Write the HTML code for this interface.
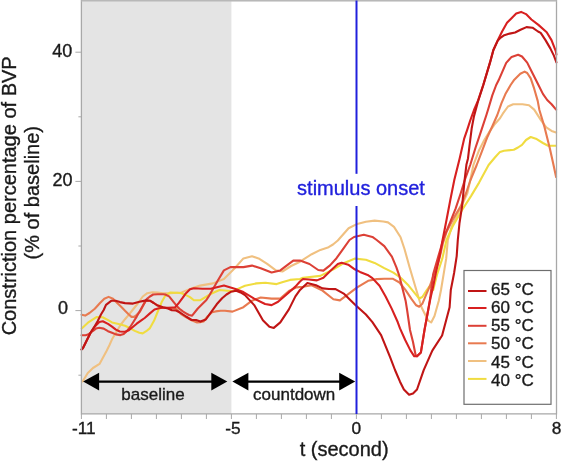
<!DOCTYPE html>
<html><head><meta charset="utf-8"><style>
html,body{margin:0;padding:0;background:#fff;width:562px;height:461px;overflow:hidden;position:relative;}
</style></head><body>
<svg width="562" height="461" viewBox="0 0 562 461" style="position:absolute;left:0;top:0;will-change:transform" font-family="Liberation Sans, sans-serif"><rect x="81.4" y="0.5" width="150.0" height="413.5" fill="#e4e4e4"/><polyline points="82.6,381.5 87.8,373.0 93.0,368.0 99.5,363.9 106.0,352.1 109.5,345.0 112.0,339.3 115.9,332.8 120.5,325.0 125.0,319.2 128.9,314.6 133.0,309.5 138.2,303.0 142.8,296.5 147.3,293.2 152.5,292.2 157.7,292.6 163.0,293.2 170.0,293.2 181.5,292.5 186.0,290.6 190.0,288.9 200.0,285.6 213.0,283.4 223.9,279.0 234.7,268.2 243.4,258.4 252.0,256.3 258.6,258.4 267.2,263.9 275.9,270.4 282.4,271.5 291.1,266.0 300.0,261.7 311.7,254.2 320.4,249.9 328.6,247.2 333.0,244.5 337.8,240.5 348.6,228.2 357.2,223.9 365.9,221.7 374.6,220.6 383.3,221.5 388.0,222.4 394.0,226.9 400.6,237.3 404.5,249.0 409.5,267.0 415.8,288.2 421.5,307.3 428.0,320.3 431.2,322.5 434.5,316.0 438.8,300.8 441.0,290.0 443.6,274.3 446.2,258.7 447.8,240.0 451.7,226.9 456.9,215.2 462.1,204.8 467.4,193.0 470.3,180.0 473.4,165.0 478.8,150.8 484.3,140.0 489.7,131.3 495.1,123.7 500.0,118.3 502.8,113.7 508.0,106.5 513.2,104.3 518.0,104.3 522.5,104.3 529.0,105.2 534.2,109.6 541.1,120.4 546.3,127.4 551.6,130.9 556.1,132.6" fill="none" stroke="#f0c080" stroke-width="2.1" stroke-linejoin="round" stroke-linecap="round"/><polyline points="81.7,328.5 88.7,322.1 96.5,317.1 102.6,317.3 108.6,320.4 112.0,322.4 118.5,324.0 125.0,325.7 130.2,328.3 134.8,330.9 139.3,332.8 142.7,333.4 146.2,331.2 149.7,328.4 154.0,320.8 158.4,310.0 161.6,302.3 165.2,295.8 170.4,292.5 176.9,292.8 181.5,293.2 186.0,295.1 190.0,297.1 193.9,300.2 200.4,300.2 205.8,297.0 210.0,294.3 219.5,290.0 227.5,290.7 233.0,291.3 238.4,288.6 245.0,285.8 256.4,283.4 265.4,282.8 276.6,284.1 283.0,282.0 290.0,279.9 300.0,279.0 303.0,277.7 320.4,275.9 333.4,269.4 344.2,262.9 355.1,258.6 365.9,259.7 374.6,262.9 384.3,268.1 393.4,272.6 401.0,278.0 408.6,285.6 414.7,293.1 419.2,298.5 422.3,297.0 426.8,290.1 430.0,285.6 433.2,290.0 437.1,274.3 442.3,258.7 446.5,240.0 453.0,225.6 462.1,210.0 471.3,195.6 479.1,182.6 488.6,165.0 495.1,157.3 500.0,151.9 504.0,150.8 513.8,149.7 518.0,147.5 522.0,144.8 526.0,140.0 530.7,137.0 535.9,138.7 542.9,143.0 548.1,145.7 556.1,145.7" fill="none" stroke="#f0dc40" stroke-width="2.1" stroke-linejoin="round" stroke-linecap="round"/><polyline points="81.5,314.7 85.2,315.6 89.5,313.0 94.8,308.7 100.0,303.0 104.3,298.7 108.6,296.9 113.0,298.7 116.7,302.4 121.9,307.6 125.0,310.7 128.3,314.0 131.5,316.9 134.2,316.9 136.5,315.0 138.5,313.0 140.2,311.4 143.4,304.9 146.0,300.4 149.9,300.7 153.8,303.0 157.7,305.6 163.0,307.5 168.0,308.0 173.0,308.5 176.5,309.0 180.8,313.8 185.0,316.5 191.7,320.3 197.1,322.5 200.0,322.3 203.5,321.5 208.0,316.0 212.0,312.3 215.6,311.4 220.6,310.7 225.0,310.7 232.5,311.6 243.4,307.2 252.0,300.7 260.7,297.5 271.6,298.6 280.3,298.6 288.9,291.0 296.5,287.4 303.0,286.8 311.7,285.2 322.5,290.6 333.4,299.3 339.9,300.4 348.6,293.9 357.2,287.4 368.1,280.8 376.8,279.1 384.3,278.7 392.6,278.7 399.5,282.5 405.6,290.1 411.6,299.2 416.2,305.3 419.2,306.8 422.3,303.8 426.8,293.1 429.7,286.5 433.2,276.0 435.0,272.6 438.4,262.0 440.2,255.2 443.0,243.0 446.5,232.1 453.0,219.1 460.8,206.1 466.1,193.0 470.5,180.0 476.7,165.0 482.1,150.8 487.5,136.7 493.0,124.8 497.3,115.0 501.5,103.2 505.4,94.1 510.6,85.0 513.8,80.3 520.3,73.8 524.6,71.6 527.2,73.0 530.7,78.3 534.2,88.7 537.7,100.9 539.4,110.0 544.6,127.4 549.8,148.3 553.3,163.9 556.1,177.0" fill="none" stroke="#e87a50" stroke-width="2.1" stroke-linejoin="round" stroke-linecap="round"/><polyline points="81.5,335.2 85.5,335.2 88.0,334.5 93.0,331.0 95.9,328.6 99.3,327.8 103.7,328.6 108.0,331.2 112.0,332.8 115.9,334.4 120.5,335.1 123.7,334.1 127.0,330.9 130.2,327.0 133.5,321.8 136.7,316.6 139.3,312.0 143.4,304.9 146.7,299.1 149.9,296.5 153.2,294.5 157.7,294.2 163.0,294.2 165.2,294.5 169.1,296.4 171.7,299.7 174.3,302.9 176.9,306.2 179.5,308.8 182.8,311.4 186.0,313.3 189.0,315.0 192.1,315.7 197.8,308.5 202.8,303.6 206.4,300.0 208.7,296.4 217.4,281.2 223.9,270.4 230.4,267.1 243.4,267.1 252.0,265.6 260.7,268.2 271.6,272.5 280.3,270.4 288.9,263.9 293.3,260.6 300.0,260.6 309.5,264.0 318.2,270.0 323.4,270.6 330.0,265.4 336.5,258.2 343.0,249.1 349.5,240.0 354.0,237.0 363.8,234.7 372.4,236.9 376.7,240.0 384.3,246.1 391.9,256.7 396.4,267.3 399.5,276.4 402.5,288.6 405.6,300.7 407.1,310.0 410.0,330.0 413.0,342.0 415.6,355.0 417.0,356.3 420.9,352.4 424.5,330.0 428.2,310.0 430.2,298.0 431.5,287.0 433.2,274.0 438.4,256.1 442.3,243.0 443.9,237.3 450.4,221.7 455.6,208.7 460.8,193.0 464.8,180.0 470.2,165.0 475.6,147.5 481.0,131.3 486.4,115.0 488.4,108.5 492.3,95.4 496.2,85.0 498.6,80.3 506.2,62.9 511.6,56.9 518.1,54.7 522.0,56.5 527.2,62.6 532.4,73.0 537.7,83.5 542.9,93.9 547.2,100.0 551.6,104.3 556.1,109.6" fill="none" stroke="#dc4036" stroke-width="2.1" stroke-linejoin="round" stroke-linecap="round"/><polyline points="81.5,349.5 82.9,348.2 87.2,339.5 90.7,332.5 94.1,327.3 99.3,322.1 102.8,321.3 108.0,323.9 112.0,326.6 115.9,329.6 119.8,331.5 125.0,331.8 128.9,330.2 132.8,327.0 136.7,323.7 142.0,319.8 144.7,318.0 149.9,313.4 154.5,309.5 159.0,308.2 163.0,307.8 168.0,307.8 173.0,307.5 175.0,307.5 178.9,302.9 182.8,297.7 186.0,293.2 190.0,289.3 193.9,288.3 202.5,288.8 210.8,288.8 223.9,285.6 234.7,288.8 243.4,292.1 254.2,298.6 265.1,304.0 271.6,305.1 278.1,301.8 286.8,294.2 295.4,286.6 300.0,281.5 303.0,279.0 309.0,279.5 316.9,280.4 323.4,277.8 330.0,271.3 337.8,264.1 341.7,262.8 348.2,264.7 354.7,269.3 360.0,271.9 367.6,274.9 372.4,278.1 379.5,285.8 385.6,296.5 391.7,308.6 397.8,322.3 400.0,328.4 405.2,340.0 410.4,350.4 414.3,356.3 417.0,356.3 420.9,352.4 424.5,330.0 428.2,310.0 430.6,297.5 432.8,288.3 435.8,273.0 439.7,256.1 442.0,243.0 446.5,220.0 450.4,199.5 454.3,180.0 459.6,158.7 464.1,138.9 467.2,129.8 470.2,120.6 474.0,110.0 478.0,100.6 483.2,85.0 489.9,62.9 493.4,50.0 497.8,40.1 502.1,31.5 507.0,22.8 511.3,18.4 516.2,13.6 521.1,11.9 526.0,14.1 531.4,19.5 538.4,24.9 546.7,32.3 551.5,40.1 555.7,50.8 556.4,54.6" fill="none" stroke="#d82020" stroke-width="2.1" stroke-linejoin="round" stroke-linecap="round"/><polyline points="81.5,349.5 82.9,348.2 87.2,339.5 90.7,332.5 94.1,327.3 97.6,321.3 101.1,314.3 103.7,310.0 106.0,304.8 111.2,300.8 115.6,300.8 120.0,302.1 125.0,303.1 133.0,303.6 139.5,301.7 146.0,300.4 149.9,300.7 153.8,303.0 157.7,305.6 163.0,307.3 168.0,308.5 171.9,310.3 176.0,310.5 180.0,312.5 186.0,316.5 191.7,320.0 196.0,320.0 200.4,321.6 205.8,319.5 211.3,311.9 216.7,304.3 222.1,298.3 226.5,294.5 230.8,291.8 236.2,290.7 240.6,292.4 245.0,295.1 254.2,305.1 262.9,320.3 269.4,326.8 273.8,327.9 280.3,322.4 288.9,309.4 295.4,296.4 300.0,289.9 307.4,283.0 316.0,285.2 322.5,288.4 329.0,289.0 335.6,289.1 344.2,293.9 355.1,304.7 365.9,314.5 372.4,322.1 381.1,335.1 390.0,356.8 395.0,370.0 400.0,381.7 403.9,389.5 409.1,394.8 413.0,393.5 417.0,389.5 423.7,370.1 432.3,350.6 442.1,335.5 449.6,307.3 450.8,290.0 454.1,273.0 456.7,256.1 457.8,240.0 459.5,223.0 462.1,206.1 463.6,190.4 464.6,180.0 466.4,164.8 468.0,158.4 469.4,146.5 471.7,128.3 474.0,116.1 478.0,101.5 483.2,85.5 489.9,62.9 493.4,50.0 497.8,40.6 500.0,38.2 504.3,35.2 509.7,33.6 515.1,32.5 520.5,29.8 526.5,27.1 532.5,27.7 538.0,31.5 540.7,32.9 545.5,40.1 550.3,48.4 553.9,55.6 556.4,62.4" fill="none" stroke="#c01515" stroke-width="2.1" stroke-linejoin="round" stroke-linecap="round"/><path d="M81.4 0.6 H556.5 V413.8 H81.4 Z" fill="none" stroke="#a8a8a8" stroke-width="1.3"/><line x1="81.4" y1="1" x2="556.5" y2="1" stroke="#c8c8c8" stroke-width="1"/><line x1="81.4" y1="414" x2="81.4" y2="419" stroke="#a8a8a8" stroke-width="1"/><line x1="106.4" y1="414" x2="106.4" y2="419" stroke="#a8a8a8" stroke-width="1"/><line x1="131.4" y1="414" x2="131.4" y2="419" stroke="#a8a8a8" stroke-width="1"/><line x1="156.4" y1="414" x2="156.4" y2="419" stroke="#a8a8a8" stroke-width="1"/><line x1="181.4" y1="414" x2="181.4" y2="419" stroke="#a8a8a8" stroke-width="1"/><line x1="206.4" y1="414" x2="206.4" y2="419" stroke="#a8a8a8" stroke-width="1"/><line x1="231.4" y1="414" x2="231.4" y2="419" stroke="#a8a8a8" stroke-width="1"/><line x1="256.4" y1="414" x2="256.4" y2="419" stroke="#a8a8a8" stroke-width="1"/><line x1="281.4" y1="414" x2="281.4" y2="419" stroke="#a8a8a8" stroke-width="1"/><line x1="306.4" y1="414" x2="306.4" y2="419" stroke="#a8a8a8" stroke-width="1"/><line x1="331.4" y1="414" x2="331.4" y2="419" stroke="#a8a8a8" stroke-width="1"/><line x1="356.4" y1="414" x2="356.4" y2="419" stroke="#a8a8a8" stroke-width="1"/><line x1="381.4" y1="414" x2="381.4" y2="419" stroke="#a8a8a8" stroke-width="1"/><line x1="406.4" y1="414" x2="406.4" y2="419" stroke="#a8a8a8" stroke-width="1"/><line x1="431.4" y1="414" x2="431.4" y2="419" stroke="#a8a8a8" stroke-width="1"/><line x1="456.4" y1="414" x2="456.4" y2="419" stroke="#a8a8a8" stroke-width="1"/><line x1="481.4" y1="414" x2="481.4" y2="419" stroke="#a8a8a8" stroke-width="1"/><line x1="506.4" y1="414" x2="506.4" y2="419" stroke="#a8a8a8" stroke-width="1"/><line x1="531.4" y1="414" x2="531.4" y2="419" stroke="#a8a8a8" stroke-width="1"/><line x1="556.4" y1="414" x2="556.4" y2="419" stroke="#a8a8a8" stroke-width="1"/><line x1="78.4" y1="375.2" x2="81.4" y2="375.2" stroke="#a8a8a8" stroke-width="1"/><line x1="75.4" y1="310.6" x2="81.4" y2="310.6" stroke="#a8a8a8" stroke-width="1"/><line x1="78.4" y1="246.0" x2="81.4" y2="246.0" stroke="#a8a8a8" stroke-width="1"/><line x1="75.4" y1="181.4" x2="81.4" y2="181.4" stroke="#a8a8a8" stroke-width="1"/><line x1="78.4" y1="116.8" x2="81.4" y2="116.8" stroke="#a8a8a8" stroke-width="1"/><line x1="75.4" y1="52.2" x2="81.4" y2="52.2" stroke="#a8a8a8" stroke-width="1"/><line x1="356.5" y1="0.5" x2="356.5" y2="173.8" stroke="#2020dc" stroke-width="2"/><line x1="356.5" y1="206" x2="356.5" y2="414" stroke="#2020dc" stroke-width="2"/><line x1="98.1" y1="381.6" x2="212.3" y2="381.6" stroke="#000" stroke-width="2.2"/><polygon points="83.1,381.6 99.1,372.8 99.1,390.40000000000003" fill="#000"/><polygon points="227.3,381.6 211.3,372.8 211.3,390.40000000000003" fill="#000"/><line x1="247.4" y1="381.6" x2="340.2" y2="381.6" stroke="#000" stroke-width="2.2"/><polygon points="232.4,381.6 248.4,372.8 248.4,390.40000000000003" fill="#000"/><polygon points="355.2,381.6 339.2,372.8 339.2,390.40000000000003" fill="#000"/><rect x="464" y="270.5" width="87" height="133.8" fill="#fff" stroke="#6e6e6e" stroke-width="1.2"/><line x1="468" y1="291" x2="486.5" y2="291" stroke="#c01515" stroke-width="2"/><line x1="468" y1="308" x2="486.5" y2="308" stroke="#d82020" stroke-width="2"/><line x1="468" y1="325.8" x2="486.5" y2="325.8" stroke="#dc4036" stroke-width="2"/><line x1="468" y1="343.3" x2="486.5" y2="343.3" stroke="#e87a50" stroke-width="2"/><line x1="468" y1="361" x2="486.5" y2="361" stroke="#f0c080" stroke-width="2"/><line x1="468" y1="378.9" x2="486.5" y2="378.9" stroke="#f0dc40" stroke-width="2"/><text x="491" y="295.1" font-size="17" text-anchor="start" fill="#1a1a1a" stroke="#1a1a1a" stroke-width="0.35" >65 °C</text><text x="491" y="313.2" font-size="17" text-anchor="start" fill="#1a1a1a" stroke="#1a1a1a" stroke-width="0.35" >60 °C</text><text x="491" y="331.3" font-size="17" text-anchor="start" fill="#1a1a1a" stroke="#1a1a1a" stroke-width="0.35" >55 °C</text><text x="491" y="349.4" font-size="17" text-anchor="start" fill="#1a1a1a" stroke="#1a1a1a" stroke-width="0.35" >50 °C</text><text x="491" y="367.5" font-size="17" text-anchor="start" fill="#1a1a1a" stroke="#1a1a1a" stroke-width="0.35" >45 °C</text><text x="491" y="385.6" font-size="17" text-anchor="start" fill="#1a1a1a" stroke="#1a1a1a" stroke-width="0.35" >40 °C</text><text x="62.3" y="57.0" font-size="18" text-anchor="middle" fill="#1a1a1a" stroke="#1a1a1a" stroke-width="0.35" >40</text><text x="62.4" y="185.9" font-size="18" text-anchor="middle" fill="#1a1a1a" stroke="#1a1a1a" stroke-width="0.35" >20</text><text x="63.0" y="314.2" font-size="18" text-anchor="middle" fill="#1a1a1a" stroke="#1a1a1a" stroke-width="0.35" >0</text><text x="83.80000000000001" y="434" font-size="17.3" text-anchor="middle" fill="#1a1a1a" stroke="#1a1a1a" stroke-width="0.35" >-11</text><text x="232.9" y="434" font-size="17.3" text-anchor="middle" fill="#1a1a1a" stroke="#1a1a1a" stroke-width="0.35" >-5</text><text x="356.2" y="434" font-size="17.3" text-anchor="middle" fill="#1a1a1a" stroke="#1a1a1a" stroke-width="0.35" >0</text><text x="556.6" y="434" font-size="17.3" text-anchor="middle" fill="#1a1a1a" stroke="#1a1a1a" stroke-width="0.35" >8</text><text x="344.2" y="456.4" font-size="20" text-anchor="middle" fill="#1a1a1a" stroke="#1a1a1a" stroke-width="0.35" >t (second)</text><text x="361" y="194.7" font-size="20" text-anchor="middle" fill="#2020dc" stroke="#2020dc" stroke-width="0.35" >stimulus onset</text><text x="153.0" y="400.0" font-size="17" text-anchor="middle" fill="#1a1a1a" stroke="#1a1a1a" stroke-width="0.35" >baseline</text><text x="294.2" y="400.2" font-size="17" text-anchor="middle" fill="#1a1a1a" stroke="#1a1a1a" stroke-width="0.35" >countdown</text><text x="16" y="195.85" font-size="20" text-anchor="middle" fill="#1a1a1a" stroke="#1a1a1a" stroke-width="0.35" transform="rotate(-90 16 195.85)">Constriction percentage of BVP</text><text x="39.4" y="192.7" font-size="20" text-anchor="middle" fill="#1a1a1a" stroke="#1a1a1a" stroke-width="0.35" transform="rotate(-90 39.4 192.7)">(% of baseline)</text></svg>
</body></html>
